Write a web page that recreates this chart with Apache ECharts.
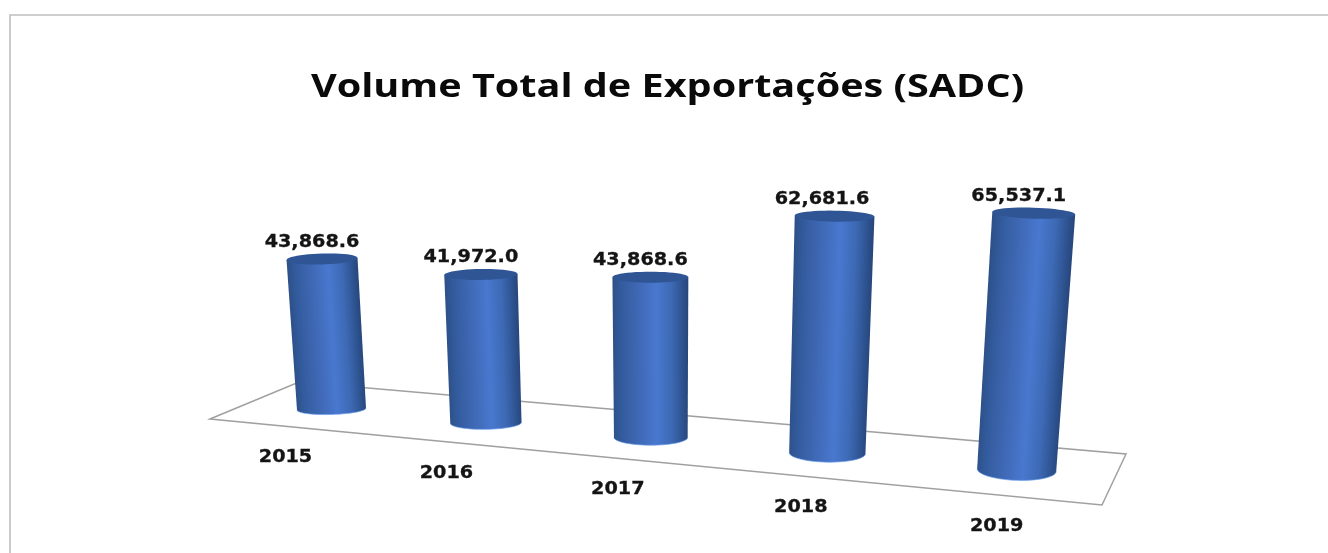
<!DOCTYPE html>
<html>
<head>
<meta charset="utf-8">
<style>
html,body{margin:0;padding:0;background:#fff;}
#main{width:1328px;height:553px;filter:blur(0.6px);}
</style>
<script src="https://cdn.jsdelivr.net/npm/echarts@6/dist/echarts.min.js"></script>
</head>
<body>
<div id="main"></div>
<script>
const chartTitle = 'Volume Total de Exportações (SADC)';
const categories = ['2015', '2016', '2017', '2018', '2019'];
const exportVolumes = [43868.6, 41972.0, 43868.6, 62681.6, 65537.1];

// The flat grid that the hidden axes define, and its perspective projection onto the screen.
const GRID = {left: 332, top: 169.6, width: 598, height: 239.4};
const FLOOR_Y = GRID.top + GRID.height;
const DEPTH = 4700, FLOOR_SLOPE = 0.089, VP_X = 665, VP_DIST = 5286;
const FONT = '"DejaVu Sans"';

function project(gx, gy) {
  const p = gx - GRID.left;
  const d = 1 / (1 - p / DEPTH);
  const bx = GRID.left - 0.5 + p * d;
  const by = FLOOR_Y + p * d * FLOOR_SLOPE;
  const H = (FLOOR_Y - gy) * d;
  return {x: bx + H * (bx - VP_X) / VP_DIST, y: by - H, d: d, H: H, bx: bx, by: by};
}

function ellipsePts(cx, cy, rx, ry, tilt, from, to, n) {
  const pts = [];
  for (let k = 0; k <= n; k++) {
    const a = from + (to - from) * k / n;
    const ex = rx * Math.cos(a);
    pts.push([cx + ex, cy + ex * tilt + ry * Math.sin(a)]);
  }
  return pts;
}

function renderCylinder(params, api) {
  const i = api.value(0);
  const v = api.value(1);
  const c0 = api.coord([i, 0]);
  const c1 = api.coord([i, v]);
  const b = project(c0[0], c0[1]);
  const t = project(c1[0], c1[1]);
  const rb = 34.5 * b.d;
  const rt = 34.5 * t.d * (1 + t.H / VP_DIST);
  const ryb = 5.5 + (b.by - FLOOR_Y) * 0.08;
  const ryt = 5.5;
  const tilt = (b.bx - 651) * 0.00009;
  const topArc = ellipsePts(t.x, t.y, rt, ryt, tilt, 0, Math.PI * 2, 48);
  const botArc = ellipsePts(b.x, b.y, rb, ryb, tilt, 0, Math.PI, 28);
  const body = [[t.x - rt, t.y - rt * tilt], [t.x + rt, t.y + rt * tilt]].concat(botArc);

  // shading runs across the cylinder, perpendicular to its leaning axis
  const ax = t.x - b.x, ay = t.y - b.y, al = Math.hypot(ax, ay);
  const nx = -ay / al, ny = ax / al;
  const mid = rb + rt;
  const sx = (b.x + t.x) / 2 - nx * mid / 2, sy = (b.y + t.y) / 2 - ny * mid / 2;
  const bodyFill = new echarts.graphic.LinearGradient(sx, sy, sx + nx * mid, sy + ny * mid, [
    {offset: 0, color: '#2d5088'},
    {offset: 0.12, color: '#335c9f'},
    {offset: 0.35, color: '#4069b6'},
    {offset: 0.58, color: '#4878cf'},
    {offset: 0.78, color: '#3d69b4'},
    {offset: 0.93, color: '#2d528f'},
    {offset: 1, color: '#28477c'}
  ], true);

  const label = v.toLocaleString('en-US', {minimumFractionDigits: 1, maximumFractionDigits: 1});
  const textStyle = {
    align: 'center', verticalAlign: 'middle',
    font: 'bold 17px ' + FONT, fill: '#141414', stroke: '#141414', lineWidth: 0.3
  };
  return {
    type: 'group',
    children: [
      {type: 'polygon', shape: {points: body}, style: {fill: bodyFill}},
      {type: 'polyline', shape: {points: botArc}, style: {fill: 'none', stroke: '#6a9fee', lineWidth: 0.8, opacity: 0.8}},
      {type: 'polygon', shape: {points: topArc}, style: {fill: '#2f5594'}},
      {
        type: 'text', x: t.x - 10 - 2.5 * Math.max(0, i - 2), y: t.y - 16.5, scaleX: 1.13,
        style: Object.assign({text: label}, textStyle)
      },
      {
        type: 'text', x: b.x - 46 + 6.5 * i, y: b.y + 48.5 + 2 * i, scaleX: 1.13,
        style: Object.assign({text: categories[i]}, textStyle)
      }
    ]
  };
}

const chart = echarts.init(document.getElementById('main'), null, {renderer: 'canvas'});
chart.setOption({
  backgroundColor: '#ffffff',
  animation: false,
  grid: GRID,
  xAxis: {type: 'category', data: categories, boundaryGap: false, show: false},
  yAxis: {type: 'value', min: 0, max: 70000, show: false},
  graphic: [
    {
      type: 'polyline', z: 0, silent: true,
      shape: {points: [[10, 553], [10, 15], [1328, 15]]},
      style: {fill: 'none', stroke: '#bebebe', lineWidth: 1.6}
    },
    {
      type: 'polygon', z: 0, silent: true,
      shape: {points: [[210, 419], [299, 382], [1126, 454], [1102, 505]]},
      style: {fill: '#ffffff', stroke: '#a0a0a0', lineWidth: 1.5}
    },
    {
      type: 'text', z: 6, silent: true, x: 667.5, y: 88, scaleX: 1.2,
      style: {
        text: chartTitle, align: 'center', verticalAlign: 'middle',
        font: '700 33px "Open Sans"', fill: '#0a0a0a'
      }
    }
  ],
  series: [{
    type: 'custom',
    coordinateSystem: 'cartesian2d',
    renderItem: renderCylinder,
    encode: {x: 0, y: 1},
    z: 5,
    clip: false,
    data: exportVolumes.map((v, i) => [categories[i], v])
  }]
});
</script>
</body>
</html>
